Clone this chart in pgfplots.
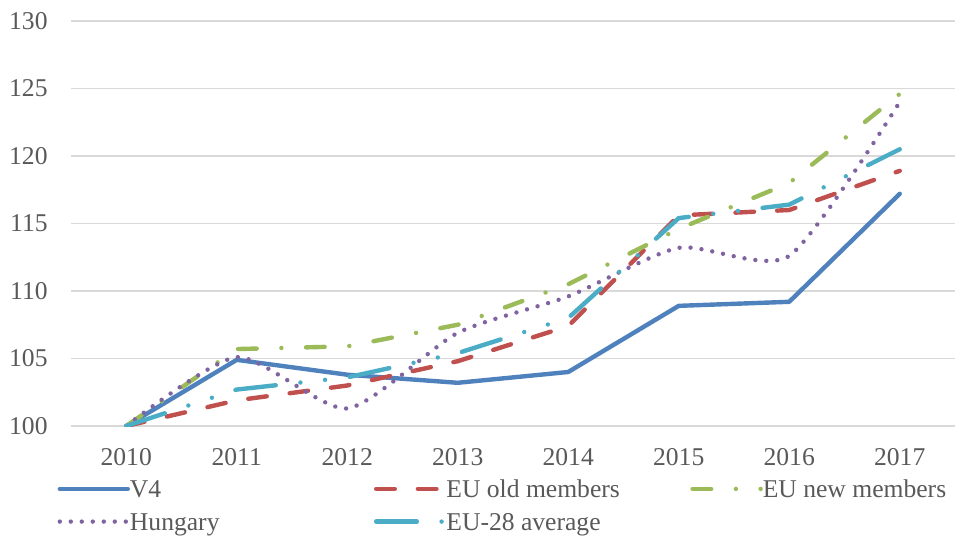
\documentclass[border=0pt]{standalone}
\usepackage{pgfplots}
\pgfplotsset{compat=1.18}
\usepackage{fontspec}
\setmainfont{Liberation Serif}
\definecolor{txtgray}{RGB}{89,89,89}
\definecolor{gridgray}{RGB}{217,217,217}
\definecolor{cV}{RGB}{79,129,189}
\definecolor{cOld}{RGB}{192,80,77}
\definecolor{cNew}{RGB}{155,187,89}
\definecolor{cHu}{RGB}{128,100,162}
\definecolor{cEU}{RGB}{75,172,198}
\begin{document}
\begin{tikzpicture}
\useasboundingbox (-35.5pt,-55pt) rectangle (442pt,213pt);
\begin{axis}[
  at={(0,0)}, anchor=south west,
  scale only axis, width=442pt, height=202.5pt,
  xmin=2009.5, xmax=2017.5, ymin=100, ymax=130,
  xtick={2010,2011,2012,2013,2014,2015,2016,2017},
  xticklabels={2010,2011,2012,2013,2014,2015,2016,2017},
  ytick={100,105,110,115,120,125,130},
  yticklabels={100,105,110,115,120,125,130},
  axis line style={draw=none},
  major tick length=0pt,
  ymajorgrids,
  grid style={color=gridgray, line width=0.7pt},
  ticklabel style={font=\fontsize{12.8}{15}\selectfont, text=txtgray},
  xticklabel style={anchor=north, inner sep=0pt, yshift=-11pt},
  yticklabel style={anchor=east, inner sep=0pt, xshift=-11.5pt},
  legend columns=3,
  legend cell align=left,
  legend style={at={(0,0)}, anchor=north west, draw=none, fill=none,
    inner sep=0pt, xshift=-6.9pt, yshift=-25pt, row sep=3.85pt,
    font=\fontsize{12.8}{15}\selectfont, text=txtgray,
    nodes={inner sep=0pt, text height=10.5pt, text depth=2pt},
    /tikz/every odd column/.append style={column sep=0pt},
    /tikz/every even column/.append style={column sep=0pt}},
  legend image code/.code={\draw[#1] (0pt,0pt) -- (34pt,0pt);},
  every axis plot/.append style={line width=2.2pt, line cap=round, line join=round},
]
\addplot[color=cV] coordinates {(2010,100) (2011,104.9) (2012,103.8) (2013,103.2) (2014,104.0) (2015,108.9) (2016,109.2) (2017,117.2)};
\addlegendentry{\makebox[122pt][l]{V4}}
\addplot[color=cOld, dash pattern=on 9.3pt off 11.55pt] coordinates {(2010,100) (2011,101.9) (2012,103.0) (2013,104.8) (2014,107.4) (2015,115.6) (2016,116.0) (2017,118.9)};
\addlegendentry{\makebox[122pt][l]{EU old members}}
\addplot[color=cNew, dash pattern=on 9.3pt off 12.35pt on 0pt off 12.35pt] coordinates {(2010,100) (2011,105.7) (2012,105.9) (2013,107.5) (2014,110.5) (2015,114.6) (2016,118.0) (2017,124.6)};
\addlegendentry{EU new members}
\addplot[color=cHu, smooth, tension=0.4, dash pattern=on 0pt off 5.5pt] coordinates {(2010,100) (2011,105.1) (2012,101.3) (2013,106.9) (2014,109.6) (2015,113.2) (2016,112.6) (2017,124.0)};
\addlegendentry{\makebox[122pt][l]{Hungary}}
\addplot[color=cEU, dash pattern=on 20.3pt off 12.4pt on 0pt off 12.4pt on 0pt off 12.4pt] coordinates {(2010,100) (2011,102.7) (2012,103.6) (2013,105.4) (2014,108.0) (2015,115.4) (2016,116.4) (2017,120.5)};
\addlegendentry{\makebox[122pt][l]{EU-28 average}}
\end{axis}
\end{tikzpicture}
\end{document}
